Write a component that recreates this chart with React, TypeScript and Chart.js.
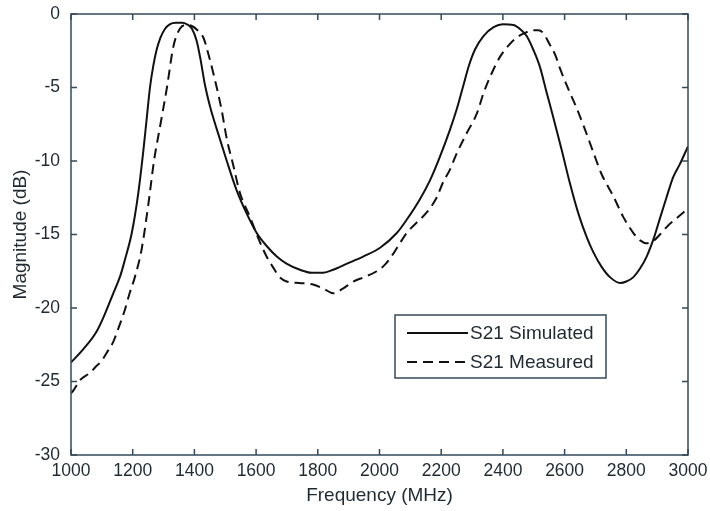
import React, { useEffect, useRef } from "react";
import { Chart, registerables } from "chart.js";

Chart.register(...registerables);

const xTicks = [1000, 1200, 1400, 1600, 1800, 2000, 2200, 2400, 2600, 2800, 3000];
const yTicks = [0, -5, -10, -15, -20, -25, -30];

const simFreq = [1000, 1040, 1083, 1110, 1137, 1160, 1175, 1197, 1218, 1234, 1245, 1256, 1267, 1278, 1290, 1305, 1320, 1340, 1360, 1376, 1392, 1407, 1420, 1434, 1452, 1472, 1505, 1537, 1570, 1602, 1635, 1667, 1700, 1742, 1780, 1818, 1850, 1872, 1904, 1947, 2002, 2056, 2088, 2131, 2164, 2196, 2228, 2250, 2270, 2290, 2310, 2337, 2370, 2400, 2434, 2460, 2477, 2500, 2520, 2540, 2563, 2590, 2617, 2645, 2672, 2693, 2720, 2747, 2780, 2800, 2823, 2845, 2866, 2890, 2909, 2930, 2952, 2974, 3000];
const simMag = [-23.7, -22.8, -21.6, -20.4, -19.0, -17.8, -16.7, -14.9, -12.2, -9.4, -7.2, -5.0, -3.5, -2.4, -1.6, -1.0, -0.7, -0.6, -0.6, -0.7, -1.0, -1.8, -3.1, -4.8, -6.4, -7.8, -10.0, -12.0, -13.6, -14.9, -15.8, -16.5, -17.0, -17.4, -17.6, -17.6, -17.4, -17.2, -16.9, -16.5, -15.9, -14.9, -14.0, -12.6, -11.3, -9.7, -7.9, -6.5, -5.0, -3.5, -2.4, -1.5, -0.9, -0.7, -0.75, -1.1, -1.5, -2.5, -3.6, -5.2, -7.0, -9.2, -11.5, -13.6, -15.2, -16.2, -17.2, -17.9, -18.3, -18.2, -17.9, -17.3, -16.5, -15.2, -13.9, -12.5, -11.1, -10.2, -9.0];

const measFreq = [1000, 1008, 1030, 1062, 1080, 1099, 1120, 1137, 1155, 1175, 1190, 1207, 1229, 1251, 1269, 1290, 1311, 1332, 1353, 1375, 1390, 1410, 1429, 1445, 1461, 1488, 1505, 1525, 1548, 1580, 1610, 1634, 1660, 1672, 1699, 1740, 1785, 1820, 1850, 1880, 1915, 1950, 1991, 2020, 2045, 2066, 2088, 2120, 2153, 2185, 2207, 2228, 2250, 2283, 2315, 2337, 2360, 2391, 2420, 2445, 2470, 2499, 2515, 2531, 2550, 2570, 2585, 2610, 2639, 2665, 2693, 2720, 2758, 2790, 2823, 2845, 2866, 2890, 2909, 2935, 2963, 2985, 3000];
const measMag = [-25.8, -25.6, -24.9, -24.4, -24.0, -23.6, -22.9, -22.3, -21.3, -20.1, -19.0, -17.9, -16.0, -12.9, -10.0, -7.5, -5.0, -2.2, -1.0, -0.75, -0.8, -1.1, -1.6, -2.7, -4.0, -6.5, -8.5, -10.2, -12.2, -13.8, -15.4, -16.5, -17.4, -17.8, -18.2, -18.3, -18.4, -18.7, -19.0, -18.7, -18.2, -17.9, -17.5, -17.0, -16.3, -15.6, -14.9, -14.2, -13.5, -12.5, -11.4, -10.6, -9.5, -8.1, -6.8, -5.4, -4.2, -2.9, -2.1, -1.6, -1.3, -1.1, -1.1, -1.3, -2.0, -2.8, -3.7, -5.0, -6.4, -7.8, -9.4, -10.9, -12.4, -13.8, -14.9, -15.4, -15.6, -15.4, -15.0, -14.4, -13.9, -13.5, -13.2];

const seriesLabels = ["S21 Simulated", "S21 Measured"];

const AXIS_COLOR = "#34495a";
const TEXT_COLOR = "#1f2a33";
const FONT = "'Liberation Sans', Arial, sans-serif";

const boxPlugin = {
  id: "matlabBox",
  afterDraw(chart: any) {
    const { ctx, chartArea: a, scales } = chart;
    const xs = scales.x;
    const ys = scales.y;
    ctx.save();
    ctx.strokeStyle = AXIS_COLOR;
    ctx.lineWidth = 1.5;
    ctx.strokeRect(a.left, a.top, a.right - a.left, a.bottom - a.top);
    const tl = 6;
    ctx.beginPath();
    xTicks.forEach((v) => {
      const px = xs.getPixelForValue(v);
      ctx.moveTo(px, a.bottom);
      ctx.lineTo(px, a.bottom - tl);
      ctx.moveTo(px, a.top);
      ctx.lineTo(px, a.top + tl);
    });
    yTicks.forEach((v) => {
      const py = ys.getPixelForValue(v);
      ctx.moveTo(a.left, py);
      ctx.lineTo(a.left + tl, py);
      ctx.moveTo(a.right, py);
      ctx.lineTo(a.right - tl, py);
    });
    ctx.stroke();

    // legend
    const lx = Math.round(xs.getPixelForValue(2050));
    const ly = Math.round(ys.getPixelForValue(-20.48));
    const lw = 211;
    const lh = 63;
    ctx.fillStyle = "#ffffff";
    ctx.fillRect(lx, ly, lw, lh);
    ctx.strokeStyle = AXIS_COLOR;
    ctx.lineWidth = 1.5;
    ctx.strokeRect(lx, ly, lw, lh);
    ctx.font = "19px " + FONT;
    ctx.textBaseline = "middle";
    chart.data.datasets.forEach((ds: any, i: number) => {
      const rowY = ly + 18 + i * 29;
      ctx.strokeStyle = "#111";
      ctx.lineWidth = 2;
      ctx.setLineDash(ds.borderDash || []);
      ctx.beginPath();
      ctx.moveTo(lx + 12, rowY);
      ctx.lineTo(lx + 73, rowY);
      ctx.stroke();
      ctx.setLineDash([]);
      ctx.fillStyle = TEXT_COLOR;
      ctx.fillText(ds.label, lx + 75, rowY + 1);
    });
    ctx.restore();
  },
};

export default function App() {
  const ref = useRef<HTMLCanvasElement>(null);
  useEffect(() => {
    document.body.style.margin = "0";
    const canvas = ref.current!;
    const chart = new Chart(canvas, {
      type: "line",
      data: {
        datasets: [
          {
            label: seriesLabels[0],
            data: simFreq.map((f, i) => ({ x: f, y: simMag[i] })),
            borderColor: "#111",
            borderWidth: 2,
            pointRadius: 0,
            cubicInterpolationMode: "monotone",
            fill: false,
          },
          {
            label: seriesLabels[1],
            data: measFreq.map((f, i) => ({ x: f, y: measMag[i] })),
            borderColor: "#111",
            borderWidth: 2,
            borderDash: [10, 6],
            pointRadius: 0,
            cubicInterpolationMode: "monotone",
            fill: false,
          },
        ],
      },
      options: {
        animation: false,
        responsive: false,
        maintainAspectRatio: false,
        layout: { padding: { top: 14, right: 22, left: 0, bottom: 0 } },
        plugins: { legend: { display: false }, tooltip: { enabled: false } },
        scales: {
          x: {
            type: "linear",
            min: 1000,
            max: 3000,
            afterBuildTicks: (s: any) => {
              s.ticks = xTicks.map((v) => ({ value: v }));
            },
            afterFit: (s: any) => {
              s.height = 56;
              s.paddingLeft = 0;
              s.paddingRight = 0;
            },
            grid: { display: false, drawTicks: false },
            border: { display: false },
            ticks: {
              color: TEXT_COLOR,
              font: { size: 17.5, family: FONT },
              padding: 6,
              maxRotation: 0,
              autoSkip: false,
              callback: (v: any) => String(v),
            },
            title: {
              display: true,
              text: "Frequency (MHz)",
              color: TEXT_COLOR,
              font: { size: 19, family: FONT },
              padding: { top: 0, bottom: 4 },
            },
          },
          y: {
            type: "linear",
            min: -30,
            max: 0,
            afterBuildTicks: (s: any) => {
              s.ticks = yTicks.map((v) => ({ value: v }));
            },
            afterFit: (s: any) => {
              s.width = 71;
              s.paddingTop = 0;
              s.paddingBottom = 0;
            },
            grid: { display: false, drawTicks: false },
            border: { display: false },
            ticks: {
              color: TEXT_COLOR,
              font: { size: 17.5, family: FONT },
              padding: 11,
              autoSkip: false,
              callback: (v: any) => String(v),
            },
            title: {
              display: true,
              text: "Magnitude (dB)",
              color: TEXT_COLOR,
              font: { size: 19, family: FONT },
              padding: { top: 9, bottom: 0 },
            },
          },
        },
      },
      plugins: [boxPlugin],
    });
    return () => chart.destroy();
  }, []);
  return <canvas ref={ref} width={710} height={511} style={{ display: "block" }} />;
}
